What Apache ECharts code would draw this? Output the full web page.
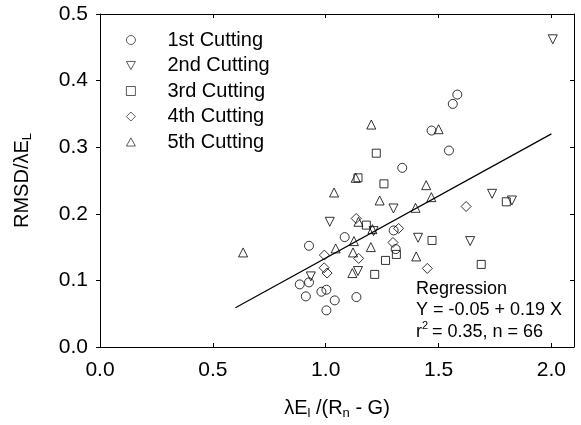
<!DOCTYPE html>
<html><head><meta charset="utf-8">
<script src="https://cdn.jsdelivr.net/npm/echarts@6/dist/echarts.min.js"></script>
<style>html,body{margin:0;padding:0;background:#fff}#c{width:581px;height:425px}</style>
</head><body><div id="c"></div>
<script>
// Data
const seriesNames = ['1st Cutting','2nd Cutting','3rd Cutting','4th Cutting','5th Cutting'];
const cut1X = [1.583,1.563,1.469,1.546,1.339,0.926,0.926,0.885,0.912,0.981,1.003,1.040,1.003,1.136,1.084,1.301,1.310];
const cut1Y = [0.379,0.365,0.325,0.295,0.269,0.152,0.097,0.094,0.076,0.083,0.086,0.070,0.055,0.075,0.165,0.175,0.147];
const cut2X = [2.006,1.300,1.737,1.825,1.018,1.409,1.640,1.143,0.934,1.212];
const cut2Y = [0.462,0.208,0.230,0.220,0.188,0.164,0.159,0.114,0.106,0.174];
const cut3X = [1.224,1.143,1.258,1.800,1.180,1.471,1.265,1.313,1.689,1.217];
const cut3Y = [0.291,0.254,0.245,0.218,0.183,0.160,0.130,0.139,0.124,0.109];
const cut4X = [1.622,1.135,1.323,1.298,0.994,1.146,1.450,0.993,1.006];
const cut4Y = [0.211,0.193,0.178,0.157,0.138,0.133,0.118,0.119,0.111];
const cut5X = [1.500,1.202,1.133,1.037,1.445,1.239,1.468,1.398,0.634,1.044,1.125,1.200,1.121,1.401,1.118,1.145,1.207];
const cut5Y = [0.327,0.334,0.254,0.232,0.243,0.220,0.225,0.209,0.142,0.148,0.159,0.150,0.142,0.136,0.111,0.188,0.177];
const regX = [0.60, 2.00];
const regY = [0.059, 0.320];
const xTicks = ['0.0','0.5','1.0','1.5','2.0'];
const yTicks = ['0.0','0.1','0.2','0.3','0.4','0.5'];

const FONT = '"Liberation Sans", Arial, Helvetica, sans-serif';
const zip = (a,b) => a.map((v,i)=>[v,b[i]]);
const symStyle = {color:'rgba(255,255,255,0)', borderColor:'#000', borderWidth:1};
function sc(name, xs, ys, symbol, rot, size){
  return {type:'scatter', name, data: zip(xs,ys), symbol, symbolRotate: rot, symbolSize: size,
    itemStyle: symStyle, emphasis:{disabled:true}, z:3};
}
const chart = echarts.init(document.getElementById('c'), null, {renderer:'canvas'});
const axisLineStyle = {color:'#000', width:1};
const legendItemStyle = {color:'rgba(255,255,255,0)', borderColor:'#000', borderWidth:0.8};
chart.setOption({
  animation:false,
  backgroundColor:'#fff',
  grid:{left:100, right:7, top:14, bottom:77, containLabel:false},
  legend:{
    orient:'vertical', left:121, top:25, itemWidth:9, itemHeight:9, itemGap:5.5,
    data: [
      {name:seriesNames[0], icon:'circle'},
      {name:seriesNames[1], icon:'path://M0,0 L10,0 L5,9 Z'},
      {name:seriesNames[2], icon:'rect'},
      {name:seriesNames[3], icon:'diamond'},
      {name:seriesNames[4], icon:'path://M5,0 L10,9 L0,9 Z'}
    ],
    itemStyle: legendItemStyle,
    selectedMode:false,
    textStyle:{fontFamily:FONT, fontSize:20, color:'#000', lineHeight:20, padding:[0,0,0,27]}
  },
  xAxis:[{
    type:'value', min:0, max:2.1, interval:0.5, position:'bottom',
    name:'{t|λE}{s|l}{t| /(R}{s|n}{t| - G)}', nameLocation:'middle', nameGap:50,
    nameTextStyle:{rich:{t:{fontFamily:FONT,fontSize:20,color:'#000'}, s:{fontFamily:FONT,fontSize:13,color:'#000',padding:[10,0,0,0]}}},
    axisLine:{show:true, lineStyle:axisLineStyle},
    axisTick:{show:true, inside:true, length:4, lineStyle:axisLineStyle},
    splitLine:{show:false},
    axisLabel:{fontFamily:FONT, fontSize:21, color:'#000', margin:13, showMaxLabel:false,
      formatter: v => { const i = Math.round(v*2); return Math.abs(v*2-i)<1e-6 && xTicks[i]!==undefined ? xTicks[i] : ''; }}
  },{
    type:'value', min:0, max:2.1, interval:0.5, position:'top',
    axisLine:{show:true, onZero:false, lineStyle:axisLineStyle},
    axisTick:{show:true, inside:true, length:4, lineStyle:axisLineStyle},
    axisLabel:{show:false}, splitLine:{show:false}
  }],
  yAxis:[{
    type:'value', min:0, max:0.5, interval:0.1, position:'left',
    name:'{t|RMSD/λE}{s|L}', nameLocation:'middle', nameGap:66, nameRotate:90,
    nameTextStyle:{rich:{t:{fontFamily:FONT,fontSize:20,color:'#000'}, s:{fontFamily:FONT,fontSize:13,color:'#000',padding:[10,0,0,0]}}},
    axisLine:{show:true, lineStyle:axisLineStyle},
    axisTick:{show:true, inside:false, length:4, lineStyle:axisLineStyle},
    splitLine:{show:false},
    axisLabel:{fontFamily:FONT, fontSize:21, color:'#000', margin:12,
      formatter: v => { const i = Math.round(v*10); return yTicks[i] !== undefined ? yTicks[i] : ''; }}
  },{
    type:'value', min:0, max:0.5, interval:0.1, position:'right',
    axisLine:{show:true, onZero:false, lineStyle:axisLineStyle},
    axisTick:{show:true, inside:true, length:4, lineStyle:axisLineStyle},
    axisLabel:{show:false}, splitLine:{show:false}
  }],
  series:[
    sc(seriesNames[0], cut1X, cut1Y, 'circle', 0, 9),
    sc(seriesNames[1], cut2X, cut2Y, 'triangle', 180, 9),
    sc(seriesNames[2], cut3X, cut3Y, 'rect', 0, 8),
    sc(seriesNames[3], cut4X, cut4Y, 'diamond', 0, 10),
    sc(seriesNames[4], cut5X, cut5Y, 'triangle', 0, 9),
    {type:'line', name:'Regression', data: zip(regX, regY), symbol:'none',
     lineStyle:{color:'#000', width:1.2}, emphasis:{disabled:true}, z:2}
  ],
  graphic:[
    {type:'text', left:416, top:280, style:{text:'Regression', font:'18px '+FONT, fill:'#000'}},
    {type:'text', left:416, top:301, style:{text:'Y = -0.05 + 0.19 X', font:'18px '+FONT, fill:'#000'}},
    {type:'group', left:416, top:320, children:[
      {type:'text', x:0, y:2, style:{text:'r', font:'18px '+FONT, fill:'#000'}},
      {type:'text', x:6, y:-1, style:{text:'2', font:'11px '+FONT, fill:'#000'}},
      {type:'text', x:16, y:2, style:{text:'= 0.35, n = 66', font:'18px '+FONT, fill:'#000'}}
    ]}
  ]
});
</script></body></html>
